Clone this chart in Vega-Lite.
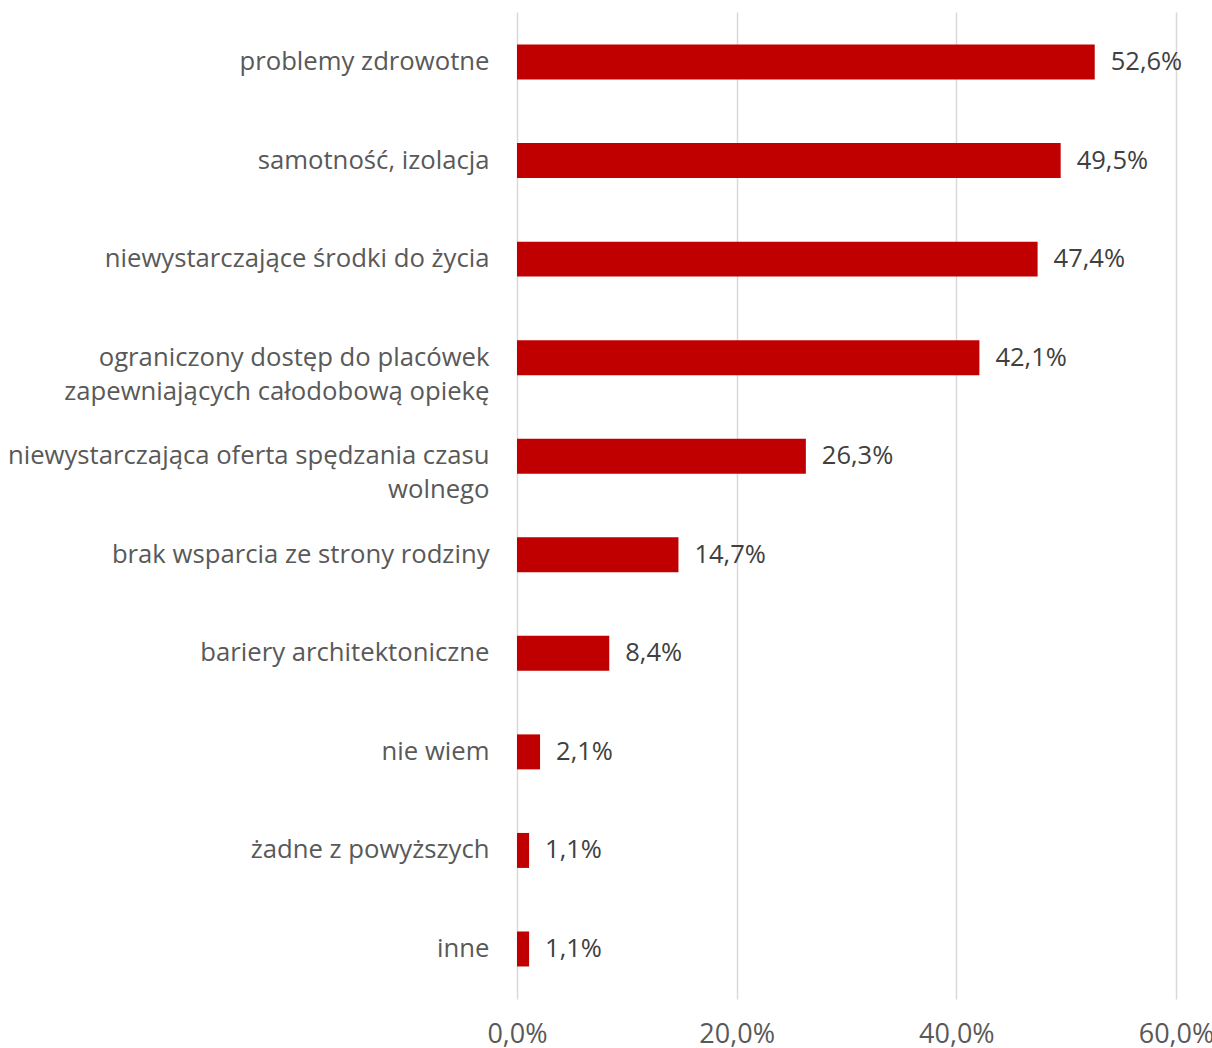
{
  "$schema": "https://vega.github.io/schema/vega-lite/v6.json",
  "autosize": "none",
  "width": 659,
  "height": 987,
  "padding": {"left": 517, "top": 12, "right": 36, "bottom": 49},
  "background": "white",
  "config": {
    "view": {"stroke": null},
    "locale": {"number": {"decimal": ",", "thousands": " ", "grouping": [3], "currency": ["", " zł"]}},
    "font": "Open Sans"
  },
  "data": {
    "values": [
      {"cat": "problemy zdrowotne", "value": 0.526},
      {"cat": "samotność, izolacja", "value": 0.495},
      {"cat": "niewystarczające środki do życia", "value": 0.474},
      {"cat": "ograniczony dostęp do placówek|zapewniających całodobową opiekę", "value": 0.421},
      {"cat": "niewystarczająca oferta spędzania czasu|wolnego", "value": 0.263},
      {"cat": "brak wsparcia ze strony rodziny", "value": 0.147},
      {"cat": "bariery architektoniczne", "value": 0.084},
      {"cat": "nie wiem", "value": 0.021},
      {"cat": "żadne z powyższych", "value": 0.011},
      {"cat": "inne", "value": 0.011}
    ]
  },
  "encoding": {
    "y": {
      "field": "cat",
      "type": "nominal",
      "sort": null,
      "title": null,
      "scale": {"paddingInner": 0.645, "paddingOuter": 0.33},
      "axis": {
        "domain": false,
        "ticks": false,
        "grid": false,
        "labelExpr": "split(datum.label, '|')",
        "labelFontSize": 25.7,
        "labelColor": "#595959",
        "labelPadding": 28,
        "labelLimit": 600,
        "labelLineHeight": 34,
        "labelAlign": "right"
      }
    },
    "x": {
      "field": "value",
      "type": "quantitative",
      "title": null,
      "scale": {"domain": [0, 0.6], "nice": false},
      "axis": {
        "values": [0, 0.2, 0.4, 0.6],
        "format": ".1%",
        "domain": false,
        "ticks": false,
        "grid": true,
        "gridColor": "#d9d9d9",
        "gridWidth": 1.5,
        "labelFontSize": 27,
        "labelColor": "#595959",
        "labelPadding": 22,
        "labelFlush": false
      }
    }
  },
  "layer": [
    {"mark": {"type": "bar", "color": "#c00000"}},
    {
      "mark": {"type": "text", "align": "left", "dx": 16, "fontSize": 25.5, "color": "#404040", "baseline": "middle"},
      "encoding": {"text": {"field": "value", "type": "quantitative", "format": ".1%"}}
    }
  ]
}
